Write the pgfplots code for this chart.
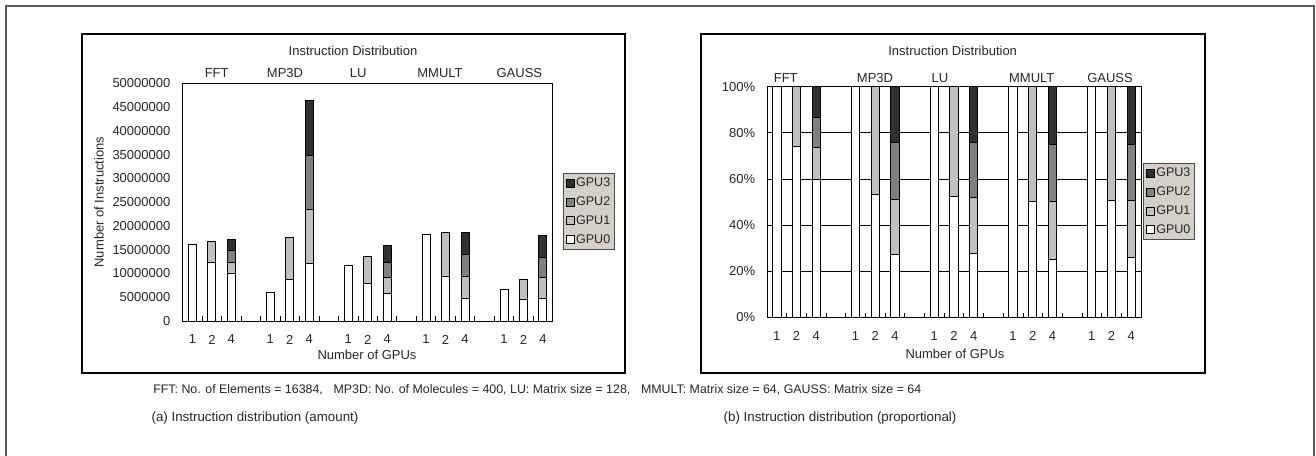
\documentclass[border=0pt]{standalone}
\usepackage{pgfplots}
\pgfplotsset{compat=1.18}
\usepackage{pgfplotstable}
\usepackage{fontspec}
\setmainfont{Liberation Sans}

\definecolor{gthree}{HTML}{303030}
\definecolor{gtwo}{HTML}{808080}
\definecolor{gone}{HTML}{C0C0C0}
\definecolor{legbg}{HTML}{D4D0C8}
\definecolor{txt}{HTML}{262626}
\definecolor{frame}{HTML}{5A5A5A}

\pgfplotstableread{
x g0 g1 g2 g3
0 16200000 0 0 0
1 12300000 4500000 0 0
2 10100000 2250000 2400000 2350000
4 6100000 0 0 0
5 8800000 8800000 0 0
6 12200000 11300000 11300000 11500000
8 11700000 0 0 0
9 7900000 5600000 0 0
10 5800000 3300000 3250000 3500000
12 18200000 0 0 0
13 9470000 9180000 0 0
14 4840000 4630000 4630000 4550000
16 6660000 0 0 0
17 4630000 4130000 0 0
18 4840000 4260000 4360000 4440000
}\amountdata

\pgfplotstableread{
x g0 g1 g2 g3
0 100 0 0 0
1 74.0 26.0 0 0
2 59.8 13.8 13.0 13.4
4 100 0 0 0
5 53.3 46.7 0 0
6 27.2 24.0 24.7 24.1
8 100 0 0 0
9 52.3 47.7 0 0
10 27.9 24.0 24.0 24.1
12 100 0 0 0
13 50.3 49.7 0 0
14 25.3 25.0 24.8 24.9
16 100 0 0 0
17 50.6 49.4 0 0
18 25.9 24.7 24.5 24.9
}\propdata

\pgfplotsset{
  gpubars/.style={
    scale only axis,
    ybar stacked,
    xmin=-0.5, xmax=18.5,
    xtick={0,1,2,4,5,6,8,9,10,12,13,14,16,17,18},
    xticklabels={1,2,4,1,2,4,1,2,4,1,2,4,1,2,4},
    minor xtick={-0.5,0.5,...,18.5},
    major x tick style={draw=none},
    minor x tick style={black, line width=0.6pt},
    major y tick style={draw=none},
    minor tick length=3.5pt,
    tick align=inside,
    xtick pos=lower, ytick pos=left,
    tick label style={font=\fontsize{9.75}{11}\selectfont, text=txt},
    /pgf/number format/assume math mode=true,
    xticklabel style={yshift=-7pt},
    axis line style={black, line width=0.7pt},
    legend cell align=left,
    reverse legend,
    legend image code/.code={\draw[#1, draw=black, line width=0.5pt] (0pt,-3pt) rectangle (6pt,3pt);},
    legend style={fill=legbg, draw=gray!60!black, line width=0.6pt,
      font=\fontsize{9.4}{10}\selectfont, text=txt, anchor=north west,
      inner sep=2pt, row sep=3.3pt,
      nodes={inner sep=1pt, text height=7pt, text depth=1.8pt}},
    clip=false,
  },
}

\begin{document}
\begin{tikzpicture}
\useasboundingbox (0,0) rectangle (987pt,-341.25pt);
% outer frame
\draw[frame, line width=1.3pt] (4.5pt,-350pt) -- (4.5pt,-4.5pt) -- (985.5pt,-4.5pt) -- (985.5pt,-350pt);
% chart boxes
\draw[black, line width=1pt] (61.5pt,-25.5pt) rectangle (468.75pt,-279.75pt);
\draw[black, line width=1pt] (525.75pt,-25.5pt) rectangle (903.75pt,-279.75pt);

\begin{axis}[gpubars,
  at={(137pt,-240.75pt)}, anchor=south west,
  width=277.5pt, height=178.3pt,
  bar width=6pt,
  ymin=0, ymax=50000000,
  ytick={0,5000000,10000000,15000000,20000000,25000000,30000000,35000000,40000000,45000000,50000000},
  yticklabels={0,5000000,10000000,15000000,20000000,25000000,30000000,35000000,40000000,45000000,50000000},
  scaled y ticks=false,
  yticklabel style={xshift=-5.7pt},
  legend style={at={(1.028,0.623)}},
]
\addplot[fill=white, draw=black, line width=0.7pt] table[x=x,y=g0]{\amountdata};
\addplot[fill=gone, draw=black, line width=0.7pt] table[x=x,y=g1]{\amountdata};
\addplot[fill=gtwo, draw=black, line width=0.7pt] table[x=x,y=g2]{\amountdata};
\addplot[fill=gthree, draw=black, line width=0.7pt] table[x=x,y=g3]{\amountdata};
\legend{GPU0,GPU1,GPU2,GPU3}
\end{axis}

\begin{axis}[gpubars,
  at={(575.25pt,-238pt)}, anchor=south west,
  width=280.5pt, height=172.95pt,
  bar width=6.2pt,
  ymin=0, ymax=100,
  ytick={0,20,40,60,80,100},
  yticklabels={0\%,20\%,40\%,60\%,80\%,100\%},
  ymajorgrids, grid style={black, line width=0.6pt},
  yticklabel style={xshift=-5.4pt},
  legend style={at={(1.006,0.669)}},
]
\addplot[fill=white, draw=black, line width=0.7pt] table[x=x,y=g0]{\propdata};
\addplot[fill=gone, draw=black, line width=0.7pt] table[x=x,y=g1]{\propdata};
\addplot[fill=gtwo, draw=black, line width=0.7pt] table[x=x,y=g2]{\propdata};
\addplot[fill=gthree, draw=black, line width=0.7pt] table[x=x,y=g3]{\propdata};
\legend{GPU0,GPU1,GPU2,GPU3}
\end{axis}

\begin{scope}[every node/.style={text=txt, font=\fontsize{9.75}{11}\selectfont, inner sep=0pt}]
% left chart texts
\node at (264.75pt,-38pt) {Instruction Distribution};
\node at (162.5pt,-54.5pt) {FFT};
\node at (213.75pt,-54.5pt) {MP3D};
\node at (268.7pt,-54.5pt) {LU};
\node at (330pt,-54.5pt) {MMULT};
\node at (389.5pt,-54.5pt) {GAUSS};
\node[rotate=90] at (74.25pt,-151.5pt) {Number of Instructions};
\node at (275.25pt,-266.25pt) {Number of GPUs};
% right chart texts
\node at (714.5pt,-38pt) {Instruction Distribution};
\node at (589.3pt,-58.3pt) {FFT};
\node at (656.25pt,-58.3pt) {MP3D};
\node at (705pt,-58.3pt) {LU};
\node at (773.8pt,-58.3pt) {MMULT};
\node at (832.5pt,-58.3pt) {GAUSS};
\node at (716.25pt,-265.5pt) {Number of GPUs};
% footnote and captions
\node[anchor=west, font=\fontsize{9.3}{11}\selectfont] at (114.75pt,-292.5pt)
  {FFT: No. of Elements = 16384,\hspace{8pt}MP3D: No. of Molecules = 400, LU: Matrix size = 128,\hspace{8pt}MMULT: Matrix size = 64, GAUSS: Matrix size = 64};
\node[font=\fontsize{10}{12}\selectfont] at (191.25pt,-313.5pt) {(a) Instruction distribution (amount)};
\node[font=\fontsize{10}{12}\selectfont] at (630pt,-313.5pt) {(b) Instruction distribution (proportional)};
\end{scope}
\end{tikzpicture}
\end{document}
